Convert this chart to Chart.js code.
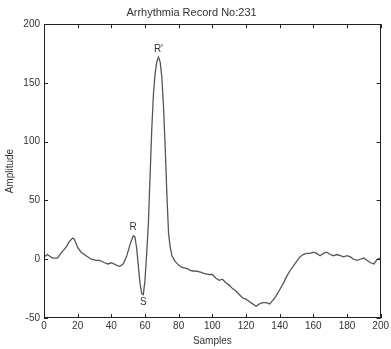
<!DOCTYPE html>
<html lang="en">
<head>
  <meta charset="UTF-8">
  <title>Arrhythmia Record No:231</title>
  <script src="https://cdn.jsdelivr.net/npm/chart.js"></script>
  <style>
    body { margin: 0; background: #fff; }
    canvas { display: block; }
  </style>
</head>
<body>

<canvas id="ecgChart" width="391" height="349"></canvas>

<script>
  // values
  const samples = [0, 2, 5, 8, 10, 13, 15, 17, 18, 20, 22, 25, 28, 31, 33, 36, 38, 40, 43, 45, 47, 49,
    51, 53, 54, 55, 56, 57, 58, 59, 60, 61, 62, 63, 64, 65, 66, 67, 68, 69, 70, 71, 72, 73, 74, 75, 76, 78,
    80, 82, 85, 88, 90, 93, 95, 98, 100, 102, 104, 106, 108, 110, 112, 114, 116, 118, 120, 122, 124, 126,
    128, 130, 132, 134, 136, 138, 140, 142, 144, 146, 148, 150, 152, 154, 156, 158, 160, 162, 164, 166,
    168, 170, 172, 174, 176, 178, 180, 182, 184, 186, 188, 190, 192, 194, 196, 198, 200];
  const amplitude = [2, 4, 1, 1, 5, 10, 15, 18, 17, 10, 6, 3, 0, -1, -1, -3, -4, -3, -5, -6, -4, 2,
    12, 20, 19, 10, -5, -20, -29, -30, -18, 5, 30, 70, 110, 140, 158, 168, 172, 168, 155, 130, 95, 55, 22, 10, 3, -2,
    -5, -7, -8, -10, -10, -11, -12, -13, -13, -16, -18, -17, -20, -22, -25, -27, -30, -33, -34, -36, -38, -40,
    -38, -37, -37, -38, -35, -31, -26, -21, -15, -10, -6, -2, 2, 4, 5, 5, 6, 5, 3, 5,
    6, 4, 3, 4, 3, 2, 3, 2, 0, -1, 0, 1, -1, -3, -4, 0, 1];
  const xTicks = [0, 20, 40, 60, 80, 100, 120, 140, 160, 180, 200];
  const yTicks = [-50, 0, 50, 100, 150, 200];
  const peakNames = ['R', 'S', "R'"];
  const peakSamples = [53, 59, 68];
  const peakValues = [20, -30, 172];

  const textColor = '#333';
  const lineColor = '#555';
  const sansFont = '"Liberation Sans", Arial, sans-serif';
  const narrowFont = '"Liberation Sans Narrow", "Liberation Sans", Arial, sans-serif';

  const points = samples.map((s, i) => ({ x: s, y: amplitude[i] }));

  // frame, inner ticks and peak labels, the matlab way
  const matlabFrame = {
    id: 'matlabFrame',
    afterDraw(chart) {
      const ctx = chart.ctx;
      const a = chart.chartArea;
      const xs = chart.scales.x;
      const ys = chart.scales.y;
      ctx.save();
      ctx.strokeStyle = '#222';
      ctx.lineWidth = 1;
      ctx.strokeRect(Math.round(a.left) + 0.5, Math.round(a.top) + 0.5,
        Math.round(a.right - a.left) - 1, Math.round(a.bottom - a.top) - 1);
      ctx.beginPath();
      xTicks.forEach(t => {
        const px = Math.round(xs.getPixelForValue(t)) + 0.5;
        ctx.moveTo(px, a.bottom); ctx.lineTo(px, a.bottom - 4);
        ctx.moveTo(px, a.top); ctx.lineTo(px, a.top + 4);
      });
      yTicks.forEach(t => {
        const py = Math.round(ys.getPixelForValue(t)) + 0.5;
        ctx.moveTo(a.left, py); ctx.lineTo(a.left + 4, py);
        ctx.moveTo(a.right, py); ctx.lineTo(a.right - 4, py);
      });
      ctx.stroke();

      ctx.fillStyle = textColor;
      ctx.font = '10px ' + narrowFont;
      ctx.textAlign = 'center';
      peakNames.forEach((name, i) => {
        const px = xs.getPixelForValue(peakSamples[i]);
        const py = ys.getPixelForValue(peakValues[i]);
        if (peakValues[i] < 0) {
          ctx.textBaseline = 'top';
          ctx.fillText(name, px, py + 3);
        } else {
          ctx.textBaseline = 'bottom';
          ctx.fillText(name, px, py - 3);
        }
      });
      ctx.restore();
    }
  };

  const ctx = document.getElementById('ecgChart').getContext('2d');
  new Chart(ctx, {
    type: 'line',
    data: {
      datasets: [{
        label: 'Amplitude',
        data: points,
        borderColor: lineColor,
        borderWidth: 1.3,
        pointRadius: 0,
        fill: false,
        tension: 0
      }]
    },
    options: {
      responsive: false,
      animation: false,
      layout: { padding: { left: 0, right: 8, top: 0, bottom: 0 } },
      plugins: {
        legend: { display: false },
        tooltip: { enabled: false },
        title: {
          display: true,
          text: 'Arrhythmia Record No:231',
          color: textColor,
          font: { family: sansFont, size: 11, weight: 'normal' },
          padding: { top: 6, bottom: 5 }
        }
      },
      scales: {
        x: {
          type: 'linear',
          min: 0,
          max: 200,
          afterFit: s => { s.height = 31; },
          afterBuildTicks: s => { s.ticks = xTicks.map(v => ({ value: v })); },
          grid: { display: false, drawTicks: false },
          border: { display: false },
          ticks: { color: textColor, padding: 2, maxRotation: 0, font: { family: narrowFont, size: 10 } },
          title: {
            display: true,
            text: 'Samples',
            color: textColor,
            padding: { top: 0, bottom: 2 },
            font: { family: sansFont, size: 10 }
          }
        },
        y: {
          min: -50,
          max: 200,
          afterFit: s => { s.width = 44; },
          afterBuildTicks: s => { s.ticks = yTicks.map(v => ({ value: v })); },
          grid: { display: false, drawTicks: false },
          border: { display: false },
          ticks: { color: textColor, padding: 4, font: { family: narrowFont, size: 10 } },
          title: {
            display: true,
            text: 'Amplitude',
            color: textColor,
            padding: { top: 4, bottom: 0 },
            font: { family: sansFont, size: 10 }
          }
        }
      }
    },
    plugins: [matlabFrame]
  });
</script>

</body>
</html>
